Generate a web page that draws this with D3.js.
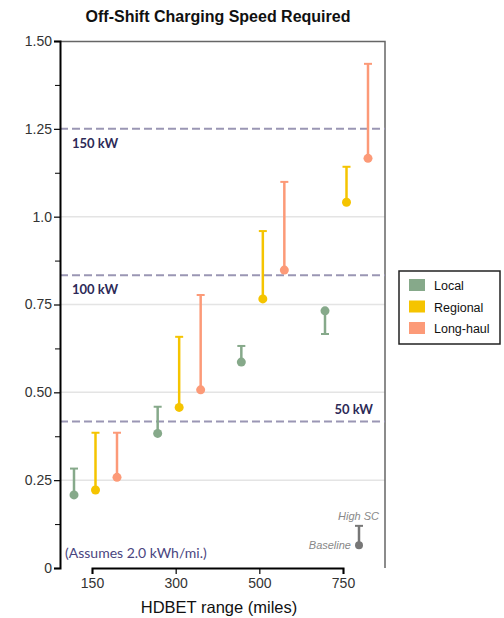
<!DOCTYPE html>
<html>
<head>
<meta charset="utf-8">
<script src="https://cdn.jsdelivr.net/npm/d3@7"></script>
<style>
  body { margin: 0; background: #fff; }
  text { font-family: "Liberation Sans", Arial, sans-serif; }
</style>
</head>
<body>
<div id="chart"></div>
<script>
// data
var ranges = ["150", "300", "500", "750"];
var series = ["Local", "Regional", "Long-haul"];
var colors = ["#86a98a", "#f5c400", "#fc9a78"];

var localBase = [0.208, 0.383, 0.586, 0.732];
var localHigh = [0.283, 0.459, 0.632, 0.666];
var regionalBase = [0.222, 0.457, 0.766, 1.041];
var regionalHigh = [0.385, 0.658, 0.959, 1.142];
var longBase = [0.258, 0.507, 0.848, 1.166];
var longHigh = [0.385, 0.777, 1.099, 1.435];

var chargeLevels = [0.4167, 0.8333, 1.25];
var chargeLabels = ["50 kW", "100 kW", "150 kW"];

var yTicks = [0, 0.25, 0.5, 0.75, 1.0, 1.25, 1.5];
var yTickLabels = ["0", "0.25", "0.50", "0.75", "1.0", "1.25", "1.50"];
var yMinor = [0.125, 0.375, 0.625, 0.875, 1.125, 1.375];

var svgWidth = 504;
var svgHeight = 618;
var margin = { top: 41, right: 119, bottom: 50, left: 60 };
var width = svgWidth - margin.left - margin.right;
var height = svgHeight - margin.top - margin.bottom;

var svg = d3.select("#chart")
    .append("svg")
    .attr("width", svgWidth)
    .attr("height", svgHeight);

var chartGroup = svg.append("g")
    .attr("transform", "translate(" + margin.left + "," + margin.top + ")");

var yScale = d3.scaleLinear().domain([0, 1.5]).range([height, 0]);
var xScale = d3.scalePoint().domain(ranges).range([32, 283]);
var offset = d3.scalePoint().domain(series).range([-18, 25]);
var color = d3.scaleOrdinal().domain(series).range(colors);

// gridlines
chartGroup.selectAll(".grid")
    .data([0.25, 0.5, 0.75, 1.0])
    .enter().append("line")
    .attr("x1", 0).attr("x2", width)
    .attr("y1", function(d) { return yScale(d); })
    .attr("y2", function(d) { return yScale(d); })
    .attr("stroke", "#e4e4e4")
    .attr("stroke-width", 1.5);

// frame top and right
chartGroup.append("path")
    .attr("d", "M0,0.5H" + width + "V" + height)
    .attr("fill", "none")
    .attr("stroke", "#666")
    .attr("stroke-width", 1.5);

// charger levels
chartGroup.selectAll(".level")
    .data(chargeLevels)
    .enter().append("line")
    .attr("x1", 0).attr("x2", width)
    .attr("y1", function(d) { return yScale(d); })
    .attr("y2", function(d) { return yScale(d); })
    .attr("stroke", "#9a96b4")
    .attr("stroke-width", 2)
    .attr("stroke-dasharray", "8,4");

chartGroup.selectAll(".levelLabel")
    .data(chargeLevels)
    .enter().append("text")
    .attr("x", function(d, i) { return i === 0 ? width - 12 : 12; })
    .attr("y", function(d, i) { return i === 0 ? yScale(d) - 8 : yScale(d) + 19; })
    .attr("text-anchor", function(d, i) { return i === 0 ? "end" : "start"; })
    .style("font-family", "Lato, 'Open Sans', sans-serif")
    .style("font-weight", "bold")
    .style("font-size", "13px")
    .attr("fill", "#2d2a57")
    .text(function(d, i) { return chargeLabels[i]; });

// axes
var leftAxis = d3.axisLeft(yScale)
    .tickValues(yTicks)
    .tickSize(6)
    .tickFormat(function(d, i) { return yTickLabels[i]; });
var minorAxis = d3.axisLeft(yScale).tickValues(yMinor).tickSize(5).tickFormat("");
var bottomAxis = d3.axisBottom(xScale).tickSize(6);

var yAxisG = chartGroup.append("g").call(leftAxis);
chartGroup.append("g").call(minorAxis).select(".domain").remove();
var xAxisG = chartGroup.append("g")
    .attr("transform", "translate(0," + height + ")")
    .call(bottomAxis);

[yAxisG, xAxisG].forEach(function(g) {
    g.select(".domain").attr("stroke", "#000").attr("stroke-width", 2);
    g.selectAll(".tick line").attr("stroke", "#000").attr("stroke-width", 1.2);
    g.selectAll(".tick text")
        .attr("fill", "#333")
        .style("font-family", "'Liberation Sans', Arial, sans-serif")
        .style("font-size", "14px");
});
yAxisG.selectAll(".tick text").attr("x", -8);
xAxisG.selectAll(".tick text").attr("y", 10);
chartGroup.selectAll(".tick line").attr("stroke", "#000");

// error bars
var rows = [];
var bases = [localBase, regionalBase, longBase];
var highs = [localHigh, regionalHigh, longHigh];
series.forEach(function(s, si) {
    ranges.forEach(function(r, ri) {
        rows.push({ series: s, range: r, base: bases[si][ri], high: highs[si][ri] });
    });
});

var bars = chartGroup.selectAll(".bar")
    .data(rows)
    .enter().append("g")
    .attr("transform", function(d) {
        return "translate(" + (xScale(d.range) + offset(d.series)) + ",0)";
    });

bars.append("line")
    .attr("y1", function(d) { return yScale(d.base); })
    .attr("y2", function(d) { return yScale(d.high); })
    .attr("stroke", function(d) { return color(d.series); })
    .attr("stroke-width", 2.5);
bars.append("line")
    .attr("x1", -4).attr("x2", 4)
    .attr("y1", function(d) { return yScale(d.high); })
    .attr("y2", function(d) { return yScale(d.high); })
    .attr("stroke", function(d) { return color(d.series); })
    .attr("stroke-width", 2);
bars.append("circle")
    .attr("cy", function(d) { return yScale(d.base); })
    .attr("r", 4.5)
    .attr("fill", function(d) { return color(d.series); });

// key for the error bar
var keyBase = 0.065;
var keyHigh = 0.12;
var key = chartGroup.append("g")
    .attr("transform", "translate(" + (xScale("750") + 16) + ",0)");
key.append("line")
    .attr("y1", yScale(keyBase)).attr("y2", yScale(keyHigh))
    .attr("stroke", "#777").attr("stroke-width", 2.5);
key.append("line")
    .attr("x1", -4).attr("x2", 4)
    .attr("y1", yScale(keyHigh)).attr("y2", yScale(keyHigh))
    .attr("stroke", "#777").attr("stroke-width", 2);
key.append("circle")
    .attr("cy", yScale(keyBase)).attr("r", 4)
    .attr("fill", "#777");
key.append("text")
    .attr("x", 20).attr("y", yScale(keyHigh) - 6)
    .attr("text-anchor", "end")
    .style("font-size", "11px").style("font-style", "italic")
    .attr("fill", "#888")
    .text("High SC");
key.append("text")
    .attr("x", -8).attr("y", yScale(keyBase) + 4)
    .attr("text-anchor", "end")
    .style("font-size", "11px").style("font-style", "italic")
    .attr("fill", "#888")
    .text("Baseline");

chartGroup.append("text")
    .attr("x", 5).attr("y", height - 10)
    .style("font-family", "Lato, 'Open Sans', sans-serif")
    .style("font-size", "14px")
    .attr("fill", "#4a4580")
    .text("(Assumes 2.0 kWh/mi.)");

// title and axis label
svg.append("text")
    .attr("x", 218).attr("y", 22)
    .attr("text-anchor", "middle")
    .style("font-size", "16px").style("font-weight", "bold")
    .attr("fill", "#111")
    .text("Off-Shift Charging Speed Required");

svg.append("text")
    .attr("x", 219).attr("y", 613)
    .attr("text-anchor", "middle")
    .style("font-size", "16.5px")
    .attr("fill", "#111")
    .text("HDBET range (miles)");

// legend
var legend = svg.append("g").attr("transform", "translate(399,271)");
legend.append("rect")
    .attr("width", 101).attr("height", 73)
    .attr("fill", "#fff").attr("stroke", "#222").attr("stroke-width", 1.5);
var items = legend.selectAll(".item")
    .data(series)
    .enter().append("g")
    .attr("transform", function(d, i) { return "translate(10," + (8 + i * 21.5) + ")"; });
items.append("rect")
    .attr("width", 16).attr("height", 12)
    .attr("fill", function(d) { return color(d); });
items.append("text")
    .attr("x", 25).attr("y", 11)
    .style("font-size", "12.5px")
    .attr("fill", "#111")
    .text(function(d) { return d; });
</script>
</body>
</html>
